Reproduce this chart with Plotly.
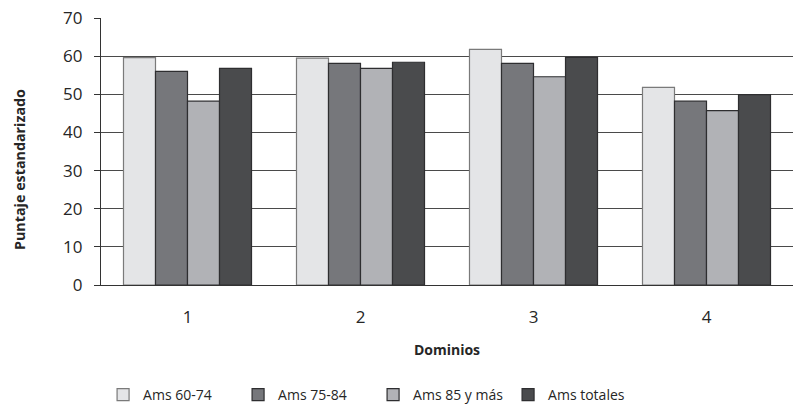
import plotly.graph_objects as go

categories = ["1", "2", "3", "4"]
series_names = ["Ams 60-74", "Ams 75-84", "Ams 85 y más", "Ams totales"]
ams_60_74 = [59.6, 59.5, 61.8, 51.8]
ams_75_84 = [56.0, 58.1, 58.1, 48.2]
ams_85_mas = [48.2, 56.8, 54.6, 45.7]
ams_totales = [56.8, 58.4, 59.7, 49.9]
y_ticks = [0, 10, 20, 30, 40, 50, 60, 70]
y_title = "Puntaje estandarizado"
x_title = "Dominios"

values = [ams_60_74, ams_75_84, ams_85_mas, ams_totales]
fills = ["#e4e5e7", "#76777b", "#b1b2b6", "#4a4b4d"]
edges = ["#7a7a7a", "#2e2e30", "#2e2e30", "#2e2e30"]

FONT = "Open Sans, Liberation Sans, sans-serif"
TXT = "#262626"

fig = go.Figure()
for name, vals, fc, ec in zip(series_names, values, fills, edges):
    fig.add_trace(go.Bar(
        x=categories, y=vals, name=name,
        marker=dict(color=fc, line=dict(color=ec, width=1.2)),
    ))

fig.update_layout(
    width=794, height=407,
    margin=dict(l=101, r=1, t=18, b=122, autoexpand=False),
    paper_bgcolor="white", plot_bgcolor="white",
    barmode="group", bargap=0.26, bargroupgap=0,
    font=dict(family=FONT, size=17, color=TXT),
    showlegend=True,
    legend=dict(
        orientation="h", xref="paper", x=0.003, xanchor="left",
        yref="container", y=1 - 395 / 407, yanchor="middle",
        entrywidth=90, entrywidthmode="pixels",
        font=dict(family=FONT, size=14, color=TXT),
        itemclick=False, traceorder="normal",
    ),
    annotations=[dict(
        text="<b>" + y_title + "</b>", textangle=-90,
        xref="paper", yref="paper", x=(19 - 101) / 692, y=(285 - 170) / 267,
        xanchor="center", yanchor="middle", showarrow=False,
        font=dict(family=FONT, size=14.3, color=TXT),
    )],
)
fig.update_xaxes(
    type="category", showline=True, linecolor="#333333", linewidth=1.2,
    ticks="", ticklabelstandoff=16, automargin=False,
    tickfont=dict(family=FONT, size=17, color=TXT),
    title=dict(text="<b>" + x_title + "</b>", font=dict(family=FONT, size=14, color=TXT), standoff=18),
    showgrid=False,
)
fig.update_yaxes(
    range=[0, 70], tickvals=y_ticks, showline=True, linecolor="#333333", linewidth=1.2,
    ticks="outside", ticklen=6, tickcolor="#333333", tickwidth=1.2,
    ticklabelstandoff=8, automargin=False,
    tickfont=dict(family=FONT, size=17, color=TXT),
    showgrid=True, gridcolor="#4a4a4a", gridwidth=1.2, zeroline=False,
)

fig.write_html("out.html", config={"displayModeBar": False},
               post_script="document.body.style.margin='0';")
